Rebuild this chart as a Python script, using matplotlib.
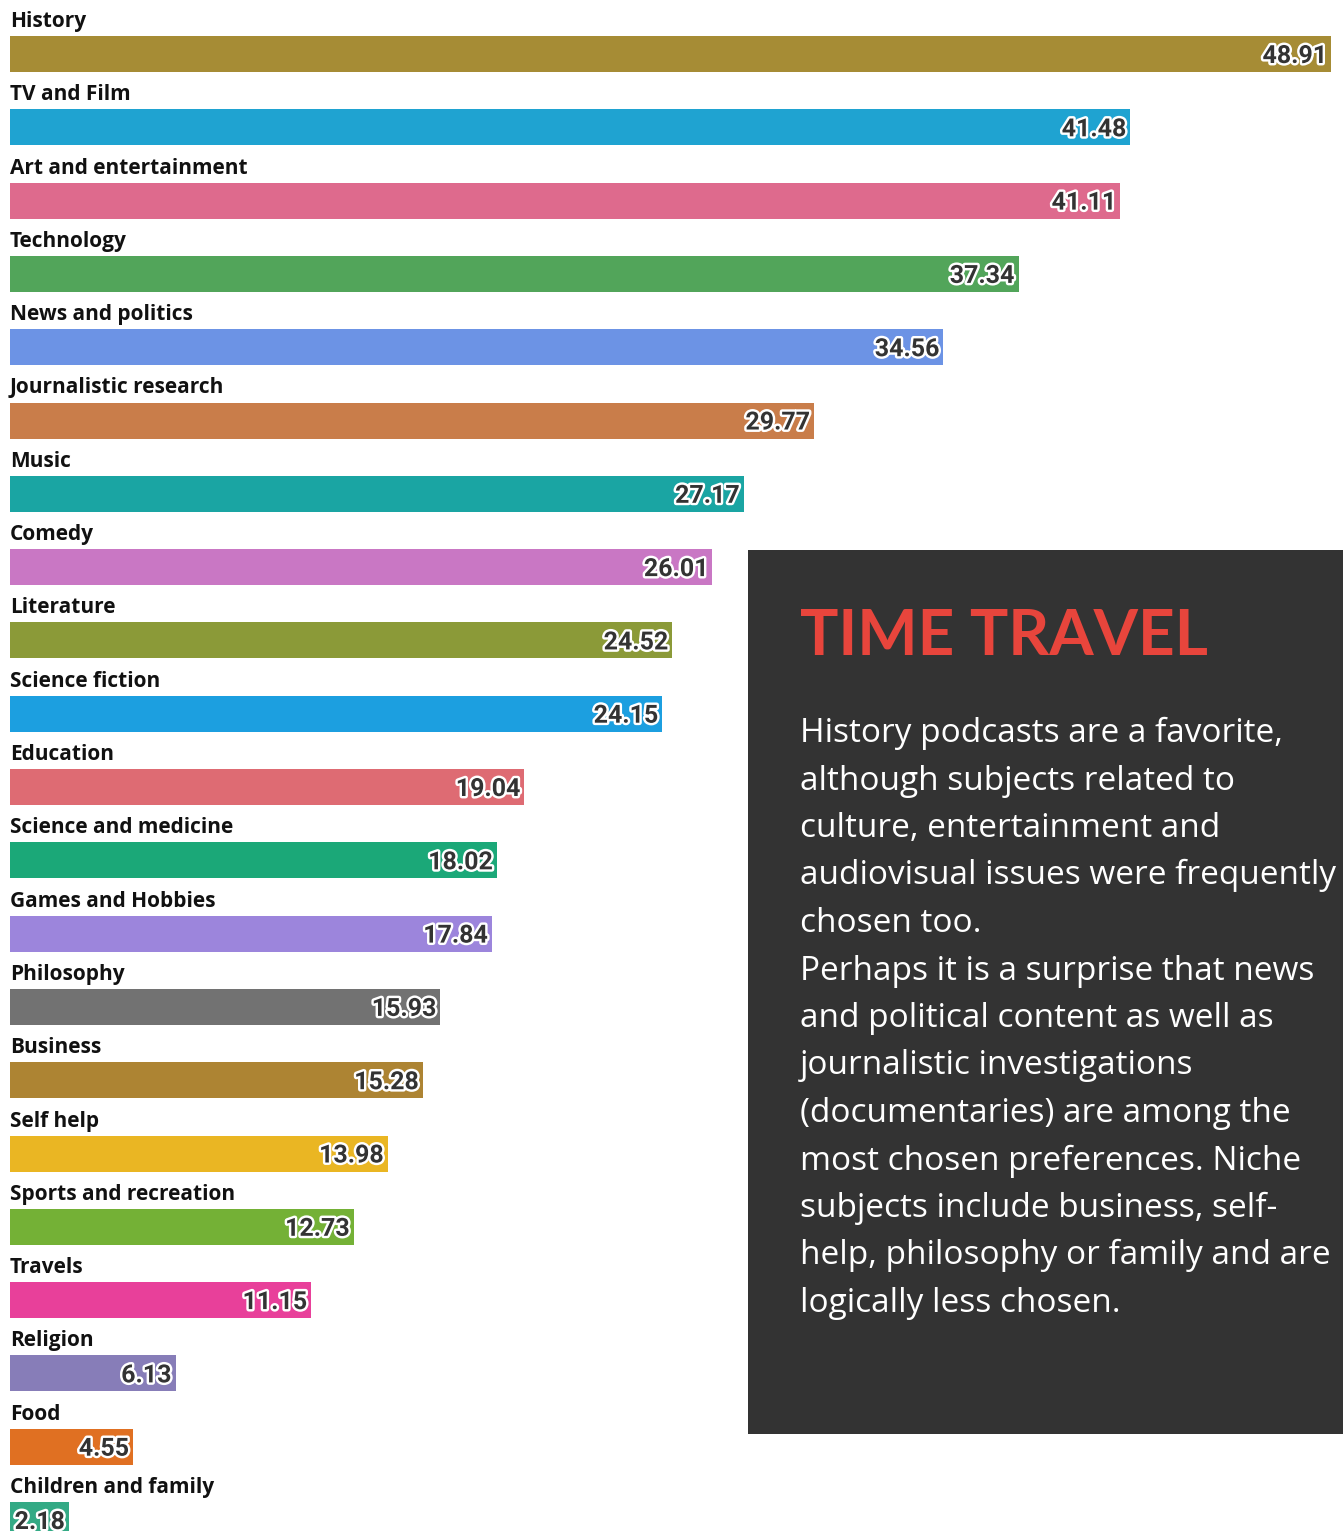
import matplotlib.pyplot as plt
import matplotlib.patheffects as pe
from matplotlib.patches import Rectangle

categories = [
    "History", "TV and Film", "Art and entertainment", "Technology",
    "News and politics", "Journalistic research", "Music", "Comedy",
    "Literature", "Science fiction", "Education", "Science and medicine",
    "Games and Hobbies", "Philosophy", "Business", "Self help",
    "Sports and recreation", "Travels", "Religion", "Food",
    "Children and family",
]
values = [48.91, 41.48, 41.11, 37.34, 34.56, 29.77, 27.17, 26.01, 24.52,
          24.15, 19.04, 18.02, 17.84, 15.93, 15.28, 13.98, 12.73, 11.15,
          6.13, 4.55, 2.18]
colors = ["#A68C35", "#1FA3D1", "#DE6A8D", "#52A55A", "#6C93E5", "#C97D4A",
          "#1AA5A3", "#C977C4", "#8B9A38", "#1C9FE0", "#DE6B73", "#1BA878",
          "#9C85DC", "#727272", "#AD8433", "#EAB623", "#74B136", "#E8409A",
          "#877DB8", "#E07022", "#33AA85"]

title = "TIME TRAVEL"
body_lines = [
    "History podcasts are a favorite,",
    "although subjects related to",
    "culture, entertainment and",
    "audiovisual issues were frequently",
    "chosen too.",
    "Perhaps it is a surprise that news",
    "and political content as well as",
    "journalistic investigations",
    "(documentaries) are among the",
    "most chosen preferences. Niche",
    "subjects include business, self-",
    "help, philosophy or family and are",
    "logically less chosen.",
]

W, H = 1343, 1531
fig = plt.figure(figsize=(W / 100, H / 100), dpi=100)
ax = fig.add_axes([0, 0, 1, 1])
ax.set_axis_off()

px_per_unit = (1331 - 10) / max(values)
ax.set_xlim(-10 / px_per_unit, (W - 10) / px_per_unit)
ax.set_ylim(H, 0)

bar_h = 36
step = 73.3
centers = [54 + i * step for i in range(len(values))]

ax.barh(centers, values, height=bar_h, color=colors, edgecolor="none")

stroke = [pe.withStroke(linewidth=3.5, foreground="white")]
for y, v, name in zip(centers, values, categories):
    ax.text(0, y - bar_h / 2 - 9, name, ha="left", va="baseline",
            fontsize=15, fontweight="bold", family="Open Sans", color="#111111")
    ax.text(v - 4 / px_per_unit, y + 2, f"{v:.2f}", ha="right", va="center",
            fontsize=18, fontweight="bold", family="Roboto", color="#333333",
            path_effects=stroke)

# dark text panel on the right
fig.add_artist(Rectangle((748 / W, 1 - 1434 / H), (W - 748) / W, (1434 - 550) / H,
                         transform=fig.transFigure, facecolor="#333333",
                         edgecolor="none", zorder=5))
fig.text(800 / W, 1 - 655 / H, title, ha="left", va="baseline",
         fontsize=46, fontweight="bold", family="Lato", color="#E8453C", zorder=6)
for i, line in enumerate(body_lines):
    fig.text(800 / W, 1 - (742 + i * 47.5) / H, line, ha="left", va="baseline",
             fontsize=24, fontweight="normal", family="Open Sans", color="white", zorder=6)

fig.savefig("out.png", dpi=100, facecolor="white")
